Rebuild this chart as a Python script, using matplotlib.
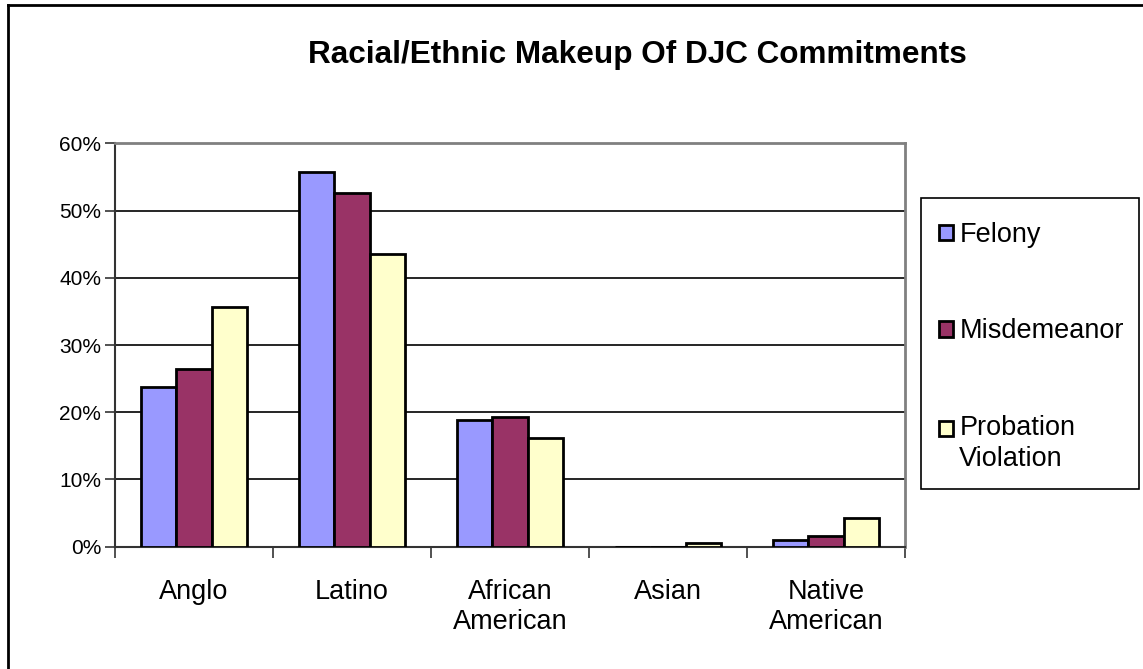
import matplotlib
matplotlib.use("Agg")
import matplotlib.pyplot as plt
import numpy as np
from matplotlib.patches import Rectangle
from matplotlib.ticker import FixedLocator, PercentFormatter
from matplotlib.legend_handler import HandlerPatch, update_from_first_child

categories = ["Anglo", "Latino", "African\nAmerican", "Asian", "Native\nAmerican"]
felony = [23.7, 55.7, 18.8, 0.0, 1.0]
misdemeanor = [26.4, 52.6, 19.3, 0.0, 1.6]
probation = [35.7, 43.5, 16.1, 0.5, 4.3]
series_names = ["Felony", "Misdemeanor", "Probation\nViolation"]
colors = ["#9999FF", "#993366", "#FFFFCC"]
yticks = [0, 10, 20, 30, 40, 50, 60]

plt.rcParams['font.family'] = ['Liberation Sans', 'DejaVu Sans']

W, H = 1143, 669
fig = plt.figure(figsize=(W/100, H/100), dpi=100)
ax = fig.add_axes([115/W, 1-546.7/H, (905-115)/W, (546.7-143.3)/H])

x = np.arange(len(categories))
w = 1/4.5
handles = []
for i, (vals, c, n) in enumerate(zip([felony, misdemeanor, probation], colors, series_names)):
    b = ax.bar(x + (i-1)*w, vals, width=w, color=c, edgecolor="black", linewidth=2.0, label=n, zorder=3)
    handles.append(b)

ax.set_xlim(-0.5, len(categories)-0.5)
ax.set_ylim(0, 60)
ax.set_yticks(yticks)
ax.yaxis.set_major_formatter(PercentFormatter(decimals=0))
ax.yaxis.grid(True, color="black", linewidth=1.2, zorder=0)
ax.set_axisbelow(True)
ax.tick_params(axis="y", direction="out", length=7, width=1.2, color="#333333", labelsize=15, pad=3)
ax.set_xticks(x)
ax.set_xticklabels(categories, fontsize=19.5, linespacing=1.22)
ax.tick_params(axis="x", which="major", length=0, pad=23)
ax.xaxis.set_minor_locator(FixedLocator(np.arange(-0.5, len(categories), 1.0)))
ax.tick_params(axis="x", which="minor", direction="out", length=8, width=1.2, color="#333333")
for s in ["top", "right"]:
    ax.spines[s].set_color("#808080")
    ax.spines[s].set_linewidth(2)
for s in ["left", "bottom"]:
    ax.spines[s].set_color("#333333")
    ax.spines[s].set_linewidth(1.5)

fig.text(0.558, 1-55/H, "Racial/Ethnic Makeup Of DJC Commitments", ha="center", va="center",
         fontsize=22.7, fontweight="bold")


def first_line_patch(legend, orig_handle, xdescent, ydescent, width, height, fontsize):
    # align the key with the first line of a two-line label
    return Rectangle((-xdescent, -ydescent + 0.57*fontsize), width, height)


leg = fig.legend(handles=handles, labels=series_names, loc="upper left",
                 bbox_to_anchor=(939/W, 1-222/H), fontsize=19.5, frameon=False,
                 labelspacing=2.6, handlelength=0.5, handleheight=0.5,
                 handletextpad=0.25, borderpad=0, borderaxespad=0,
                 handler_map={handles[2]: HandlerPatch(patch_func=first_line_patch,
                                                       update_func=update_from_first_child)})
for t in leg.get_texts():
    t.set_linespacing(1.27)

# legend frame
fig.add_artist(Rectangle((921/W, 1-489/H), (1139-921)/W, (489-198)/H, transform=fig.transFigure,
                         fill=False, edgecolor="black", linewidth=1.2))

# figure border (left and top)
fig.add_artist(plt.Line2D([8/W, 8/W], [0, 1-5/H], color="black", linewidth=2, transform=fig.transFigure))
fig.add_artist(plt.Line2D([8/W, 1], [1-5/H, 1-5/H], color="black", linewidth=2, transform=fig.transFigure))

fig.savefig("out.png", dpi=100)
